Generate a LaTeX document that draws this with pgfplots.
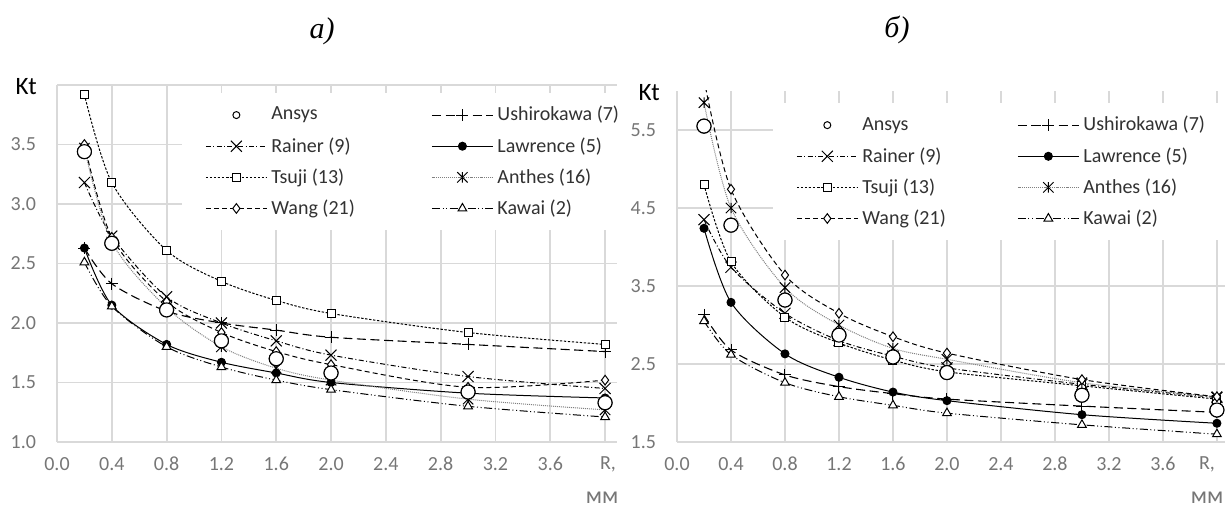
\documentclass[border=0pt]{standalone}
\usepackage{pgfplots}
\usepackage{pgfplotstable}
\pgfplotsset{compat=1.18}
\usepackage{fontspec}
\setmainfont{Carlito}
\newfontfamily\titlefont{Liberation Serif}
\definecolor{tickc}{RGB}{118,118,118}
\definecolor{gridc}{RGB}{217,217,217}
\definecolor{legc}{RGB}{50,50,50}
\pgfdeclareplotmark{xstar}{%
  \pgfpathmoveto{\pgfqpoint{-\pgfplotmarksize}{-\pgfplotmarksize}}%
  \pgfpathlineto{\pgfqpoint{\pgfplotmarksize}{\pgfplotmarksize}}%
  \pgfpathmoveto{\pgfqpoint{-\pgfplotmarksize}{\pgfplotmarksize}}%
  \pgfpathlineto{\pgfqpoint{\pgfplotmarksize}{-\pgfplotmarksize}}%
  \pgfpathmoveto{\pgfqpoint{0pt}{-\pgfplotmarksize}}%
  \pgfpathlineto{\pgfqpoint{0pt}{\pgfplotmarksize}}%
  \pgfusepathqstroke}

\pgfplotstableread{
x    ans  ush  rai  law  tsu  ant  wan  kaw
0.2  3.44 2.63 3.18 2.63 3.92 3.47 3.50 2.51
0.4  2.67 2.33 2.73 2.15 3.18 2.68 2.72 2.14
0.8  2.11 2.10 2.22 1.82 2.61 2.13 2.18 1.80
1.2  1.85 2.00 2.00 1.67 2.35 1.80 1.92 1.63
1.6  1.70 1.94 1.85 1.58 2.19 1.62 1.76 1.52
2.0  1.58 1.88 1.73 1.50 2.08 1.52 1.65 1.44
3.0  1.42 1.82 1.55 1.41 1.92 1.36 1.46 1.30
4.0  1.33 1.76 1.45 1.37 1.82 1.27 1.52 1.21
}\dataA

\pgfplotstableread{
x    ans  ush  rai  law  tsu  ant  wan  kaw
0.2  5.55 3.13 4.35 4.24 4.80 5.85 6.15 3.05
0.4  4.28 2.68 3.74 3.29 3.81 4.50 4.74 2.62
0.8  3.32 2.36 3.15 2.63 3.10 3.48 3.64 2.26
1.2  2.87 2.21 2.80 2.33 2.77 3.00 3.15 2.08
1.6  2.59 2.12 2.60 2.14 2.55 2.70 2.85 1.97
2.0  2.39 2.05 2.45 2.03 2.40 2.56 2.64 1.87
3.0  2.10 1.96 2.24 1.85 2.22 2.26 2.30 1.72
4.0  1.91 1.88 2.07 1.74 2.05 2.08 2.08 1.60
}\dataB

\pgfplotsset{
  ktbase/.style={
    scale only axis,
    axis line style={draw=none},
    tick style={draw=none},
    grid=major,
    major grid style={gridc, line width=0.9pt},
    xmin=0,
    xtick={0,0.4,0.8,1.2,1.6,2.0,2.4,2.8,3.2,3.6,4.0},
    xticklabels={0.0,0.4,0.8,1.2,1.6,2.0,2.4,2.8,3.2,3.6,{}},
    ticklabel style={font=\fontsize{10}{12}\selectfont, text=tickc},
    xticklabel style={yshift=-4pt},
    yticklabel style={xshift=-7pt},
    legend columns=2,
    legend cell align=left,
    legend style={draw=none, fill=white, font=\fontsize{10}{12}\selectfont,
      text=legc, anchor=north west, inner xsep=11.5pt, inner ysep=4.5pt, row sep=2.75pt},
    every axis plot/.append style={line width=0.5pt, black, smooth, tension=0.5},
    legend image code/.code={\draw[mark repeat=2,mark phase=2,##1] plot coordinates {(0pt,0pt)(15.25pt,0pt)(30.5pt,0pt)};},
  },
  ansys/.style={only marks, mark=*, mark size=3.5pt, mark options={fill=white, draw=black, line width=0.55pt},
    legend image code/.code={\path (0pt,0pt) (30.5pt,0pt); \draw plot[mark=*, mark size=1.75pt, mark options={fill=white, draw=black, line width=0.5pt}] coordinates {(15.25pt,0pt)};}},
  ushi/.style={dash pattern=on 4.5pt off 2.3pt, line width=0.55pt, mark=+, mark size=3pt, mark options={solid, line width=0.5pt}},
  rainer/.style={dash pattern=on 2.5pt off 1.2pt on 0.5pt off 1.2pt, mark=x, mark size=3.9pt, mark options={solid}},
  lawr/.style={solid, mark=*, mark size=2pt, mark options={fill=black}},
  tsuji/.style={dash pattern=on 1.2pt off 0.8pt, mark=square*, mark size=2pt, mark options={solid, fill=white}},
  anthes/.style={draw=gray, dash pattern=on 0.5pt off 0.5pt, mark=xstar, mark size=2.6pt, mark options={solid, draw=black}},
  wang/.style={dash pattern=on 2.5pt off 1.6pt, mark=diamond*, mark size=2.4pt, mark options={solid, fill=white}},
  kawai/.style={dash pattern=on 4pt off 1.3pt on 0.5pt off 1.3pt on 0.5pt off 1.3pt, mark=triangle*, mark size=2.5pt, mark options={solid, fill=white}},
}

\begin{document}
\begin{tikzpicture}
\useasboundingbox (0,0) rectangle (612.5pt,254pt);

% ---------- a) ----------
\begin{axis}[ktbase,
  at={(28.5pt,33pt)}, anchor=south west,
  width=280.2pt, height=178.5pt,
  xmax=4.09, ymin=1, ymax=4,
  ytick={1,1.5,2,2.5,3,3.5,4},
  yticklabels={1.0,1.5,2.0,2.5,3.0,3.5,{}},
  legend style={at={(0.223,0.978)}},
]
\addplot[ansys]  table[x=x,y=ans]{\dataA}; \addlegendentry{\makebox[78pt][l]{Ansys}}
\addplot[ushi]   table[x=x,y=ush]{\dataA}; \addlegendentry{Ushirokawa (7)}
\addplot[rainer] table[x=x,y=rai]{\dataA}; \addlegendentry{\makebox[78pt][l]{Rainer (9)}}
\addplot[lawr]   table[x=x,y=law]{\dataA}; \addlegendentry{Lawrence (5)}
\addplot[tsuji]  table[x=x,y=tsu]{\dataA}; \addlegendentry{\makebox[78pt][l]{Tsuji (13)}}
\addplot[anthes] table[x=x,y=ant]{\dataA}; \addlegendentry{Anthes (16)}
\addplot[wang]   table[x=x,y=wan]{\dataA}; \addlegendentry{\makebox[78pt][l]{Wang (21)}}
\addplot[kawai]  table[x=x,y=kaw]{\dataA}; \addlegendentry{Kawai (2)}
\addplot[ansys, forget plot] table[x=x,y=ans]{\dataA};
\end{axis}

% ---------- b) ----------
\begin{axis}[ktbase,
  at={(338.5pt,33pt)}, anchor=south west,
  width=274pt, height=175.5pt,
  xmax=4.06, ymin=1.5, ymax=6,
  ytick={1.5,2.5,3.5,4.5,5.5},
  yticklabels={1.5,2.5,3.5,4.5,5.5},
  legend style={at={(0.175,0.966)}},
]
\addplot[ansys]  table[x=x,y=ans]{\dataB}; \addlegendentry{\makebox[75.5pt][l]{Ansys}}
\addplot[ushi]   table[x=x,y=ush]{\dataB}; \addlegendentry{Ushirokawa (7)}
\addplot[rainer] table[x=x,y=rai]{\dataB}; \addlegendentry{\makebox[75.5pt][l]{Rainer (9)}}
\addplot[lawr]   table[x=x,y=law]{\dataB}; \addlegendentry{Lawrence (5)}
\addplot[tsuji]  table[x=x,y=tsu]{\dataB}; \addlegendentry{\makebox[75.5pt][l]{Tsuji (13)}}
\addplot[anthes] table[x=x,y=ant]{\dataB}; \addlegendentry{Anthes (16)}
\addplot[wang]   table[x=x,y=wan]{\dataB}; \addlegendentry{\makebox[75.5pt][l]{Wang (21)}}
\addplot[kawai]  table[x=x,y=kaw]{\dataB}; \addlegendentry{Kawai (2)}
\addplot[ansys, forget plot] table[x=x,y=ans]{\dataB};
\end{axis}

% labels
\node[anchor=east, font=\fontsize{12.5}{12.5}\selectfont, inner sep=0pt] at (18.5pt,210.5pt) {Kt};
\node[anchor=east, font=\fontsize{12.5}{12.5}\selectfont, inner sep=0pt] at (330pt,207.5pt) {Kt};
\node[anchor=base, font=\fontsize{10}{12}\selectfont, text=tickc, inner sep=0pt] at (304pt,19.4pt) {R,};
\node[anchor=base, font=\fontsize{10}{12}\selectfont, text=tickc, inner sep=0pt] at (603.5pt,19.4pt) {R,};
\node[anchor=base, font=\fontsize{12}{12}\selectfont, text=tickc, inner sep=0pt] at (301pt,2pt) {мм};
\node[anchor=base, font=\fontsize{12}{12}\selectfont, text=tickc, inner sep=0pt] at (603.5pt,2pt) {мм};
\node[font=\titlefont\itshape\fontsize{15}{15}\selectfont, inner sep=0pt] at (161pt,238.5pt) {a)};
\node[font=\titlefont\itshape\fontsize{15}{15}\selectfont, inner sep=0pt] at (448.5pt,239pt) {б)};
\end{tikzpicture}
\end{document}
